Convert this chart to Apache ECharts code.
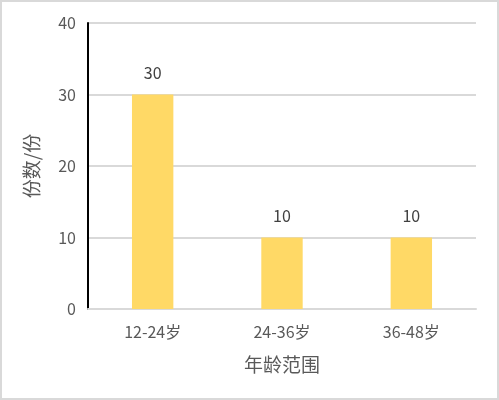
<!DOCTYPE html>
<html>
<head>
<meta charset="utf-8">
<script src="https://cdn.jsdelivr.net/npm/echarts@6/dist/echarts.min.js"></script>
<style>
html,body{margin:0;padding:0;background:#fff;}
#main{width:499px;height:400px;box-sizing:border-box;border:2px solid #d9d9d9;}
</style>
</head>
<body>
<div id="main"></div>
<script>
// 年龄段与份数
var categories = ['12-24岁', '24-36岁', '36-48岁'];
var counts = [30, 10, 10];
var yTicks = [0, 10, 20, 30, 40];

var myecharts = echarts.init(document.getElementById('main'));
var font = '"Noto Sans CJK SC", "Noto Sans", sans-serif';
var option = {
    animation: false,
    grid: {
        left: 86,
        right: 21,
        top: 21,
        bottom: 89
    },
    xAxis: {
        type: 'category',
        data: categories,
        name: '年龄范围',
        nameLocation: 'middle',
        nameGap: 46,
        nameTextStyle: {color: '#595959', fontSize: 19, fontFamily: font},
        axisLine: {lineStyle: {color: '#d9d9d9', width: 2}},
        axisTick: {show: false},
        axisLabel: {color: '#595959', fontSize: 16, margin: 15, fontFamily: font}
    },
    yAxis: {
        type: 'value',
        min: yTicks[0],
        max: yTicks[yTicks.length - 1],
        interval: 10,
        name: '份数/份',
        nameLocation: 'middle',
        nameRotate: 90,
        nameGap: 47,
        nameTextStyle: {color: '#595959', fontSize: 19, fontFamily: font},
        axisLine: {show: true, lineStyle: {color: '#000', width: 2}},
        axisTick: {show: false},
        axisLabel: {color: '#595959', fontSize: 16, margin: 12, fontFamily: font},
        splitLine: {lineStyle: {color: '#d9d9d9', width: 2}}
    },
    series: [{
        type: 'bar',
        data: counts,
        barWidth: '32%',
        itemStyle: {color: '#FFD966'},
        label: {
            show: true,
            position: 'top',
            distance: 14,
            color: '#404040',
            fontSize: 16,
            fontFamily: font
        }
    }]
};
myecharts.setOption(option);
</script>
</body>
</html>
